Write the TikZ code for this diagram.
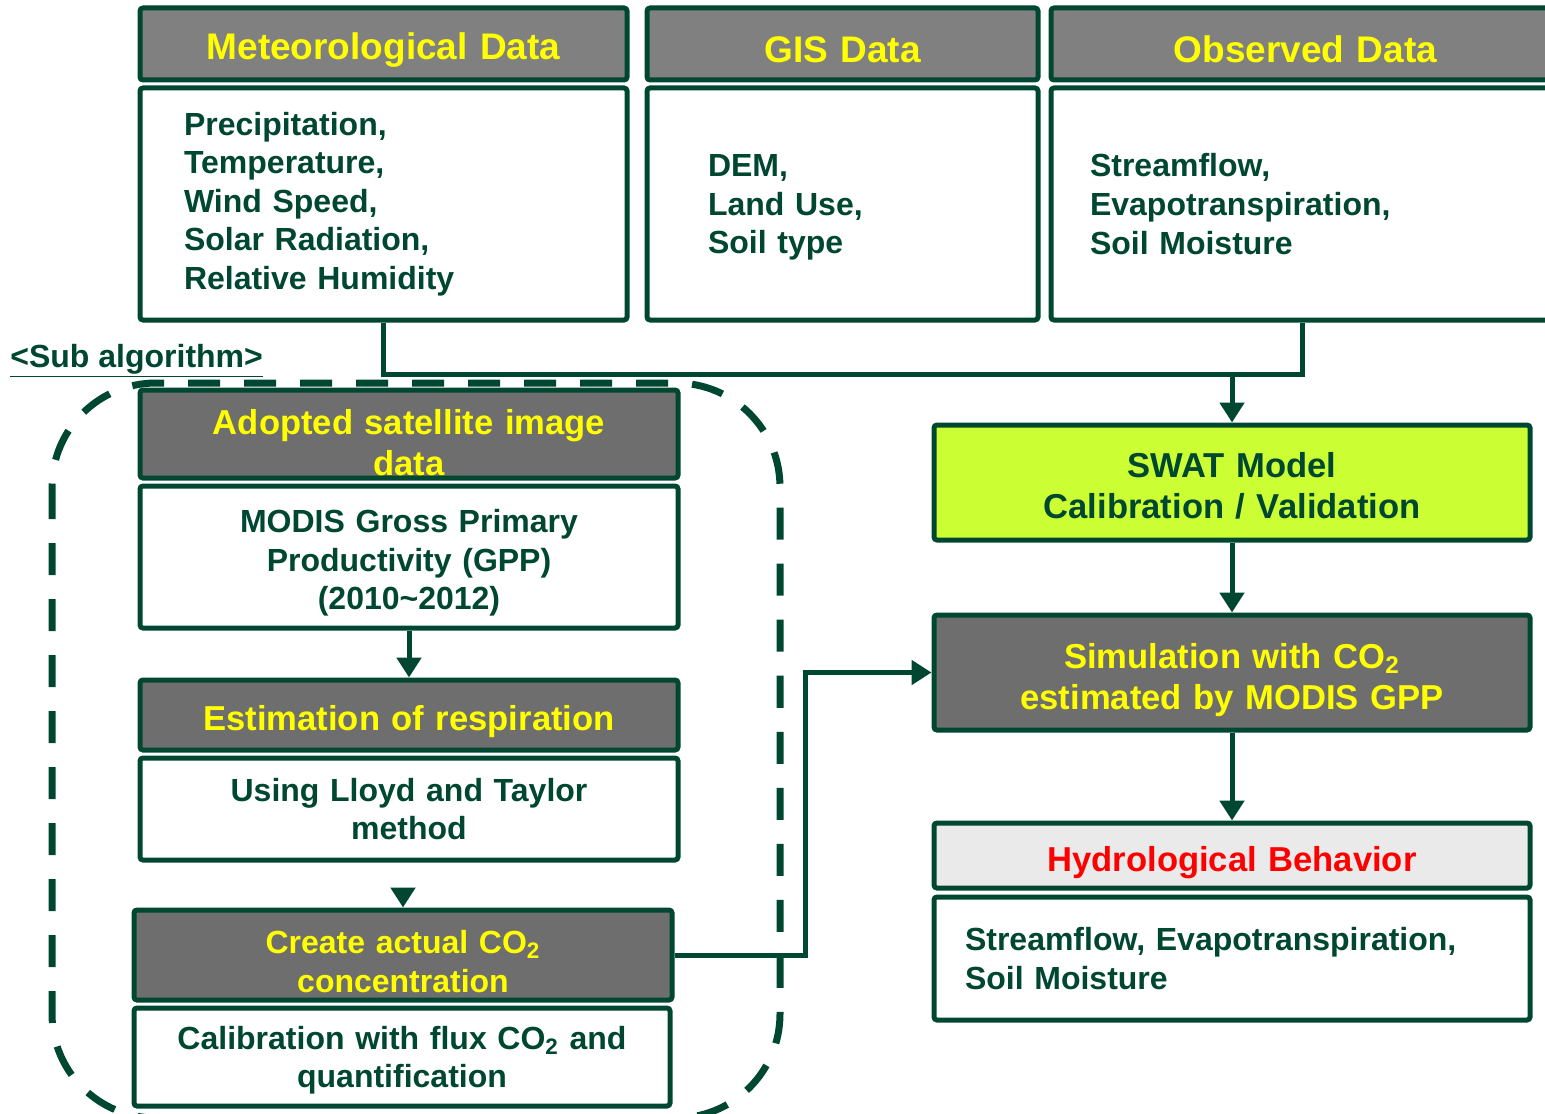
\documentclass[tikz,border=0pt]{standalone}
\usepackage{fontspec}
\setmainfont{Liberation Sans}
\usetikzlibrary{arrows.meta}
\definecolor{frameg}{RGB}{0,71,49}
\definecolor{headgray}{RGB}{128,128,128}
\definecolor{stepgray}{RGB}{110,110,110}
\definecolor{headyellow}{RGB}{255,255,0}
\definecolor{swatlime}{RGB}{204,255,51}
\definecolor{resultgray}{RGB}{234,234,234}
\definecolor{resultred}{RGB}{255,0,0}

\begin{document}
\begin{tikzpicture}[x=0.5pt, y=-0.5pt,
  box/.style={rectangle, draw=frameg, line width=2.5pt, rounded corners=1.5pt, inner sep=0pt, fill=white, align=center, text=frameg, font=\bfseries\fontsize{16}{19.3}\selectfont},
  head/.style={box, fill=headgray, text=headyellow, font=\bfseries\fontsize{18.5}{20.5}\selectfont},
  stephead/.style={head, fill=stepgray, font=\bfseries\fontsize{17.3}{20.5}\selectfont},
  link/.style={draw=frameg, line width=2.5pt},
  arrow/.style={link, -{Triangle[width=12pt,length=10pt]}}]
\useasboundingbox (0,0) rectangle (1545,1113);
\clip (0,0) rectangle (1545,1113);

% Sub algorithm frame
\draw[frameg, line width=3.5pt, dash pattern=on 16pt off 12pt, rounded corners=52pt] (52,383) rectangle (780,1118);
\node[anchor=west, inner sep=0pt, text=frameg, font=\bfseries\fontsize{16}{19.3}\selectfont] (sublabel) at (10,361) {\underline{<Sub algorithm>}};

% Input data
\node[head, text width=243.5pt, minimum height=36pt, text height=19.5pt] (methead) at (383.5,44) {Meteorological Data};
\node[box, minimum height=116pt, align=left, text width=199.5pt, inner xsep=22pt] (metbody) at (383.5,204) {Precipitation,\\Temperature,\\Wind Speed,\\Solar Radiation,\\Relative Humidity};
\node[head, text width=195.5pt, minimum height=36pt, text height=18.5pt] (gishead) at (842.5,44) {GIS Data};
\node[box, minimum height=116pt, align=left, text width=134.5pt, inner xsep=30.5pt, text height=14.7pt] (gisbody) at (842.5,204) {DEM,\\Land Use,\\Soil type};
\node[head, text width=254.5pt, minimum height=36pt, text height=18.5pt] (obshead) at (1305.5,44) {Observed Data};
\node[box, minimum height=116pt, align=left, text width=215.5pt, inner xsep=19.5pt] (obsbody) at (1305.5,204) {Streamflow,\\Evapotranspiration,\\Soil Moisture};

% Sub algorithm steps
\node[stephead, text width=269pt, minimum height=44pt, text height=21.6pt] (sathead) at (409,434) {Adopted satellite image\\data};
\node[box, text width=269pt, minimum height=71pt, text height=17.7pt] (satbody) at (409,557) {MODIS Gross Primary\\Productivity (GPP)\\(2010\textasciitilde2012)};
\node[stephead, text width=269pt, minimum height=35pt, text height=18.6pt] (resphead) at (409,715) {Estimation of respiration};
\node[box, text width=269pt, minimum height=51pt] (respbody) at (409,809) {Using Lloyd and Taylor\\method};
\node[stephead, text width=269pt, minimum height=45pt, text height=17.7pt, font=\bfseries\fontsize{16}{19.5}\selectfont] (co2head) at (403,955) {Create actual CO\textsubscript{2}\\concentration};
\node[box, text width=268pt, minimum height=49pt, text height=14.7pt] (co2body) at (402,1057) {Calibration with flux CO\textsubscript{2} and\\quantification};

% Model
\node[stephead, fill=swatlime, text=frameg, text width=298pt, minimum height=57.5pt, text height=15.6pt] (swat) at (1232,482.5) {SWAT Model\\Calibration / Validation};
\node[stephead, text width=298pt, minimum height=57.5pt, text height=19.6pt] (sim) at (1232,672.5) {Simulation with CO\textsubscript{2}\\estimated by MODIS GPP};
\node[stephead, fill=resultgray, text=resultred, text width=298pt, minimum height=32.5pt, text height=19.6pt] (hydhead) at (1232,855.5) {Hydrological Behavior};
\node[box, minimum height=61.5pt, align=left, text width=267pt, inner xsep=15.5pt] (hydbody) at (1232,958.5) {Streamflow, Evapotranspiration,\\Soil Moisture};

% Connectors
\coordinate (merge) at (1232,372);
\draw[link] (metbody.south) -- ++(0,52) -| ([xshift=-1.5pt]obsbody.south);
\draw[arrow] (merge) -- (swat.north);
\draw[arrow] (swat.south) -- (sim.north);
\draw[arrow] (sim.south) -- (hydhead.north);
\draw[arrow] (satbody.south) -- (resphead.north);
\draw[arrow, shorten <=14pt] (respbody.south -| co2head.north) -- (co2head.north);
\draw[arrow] (co2head.east) -- ++(131,0) |- (sim.west);
\end{tikzpicture}
\end{document}
